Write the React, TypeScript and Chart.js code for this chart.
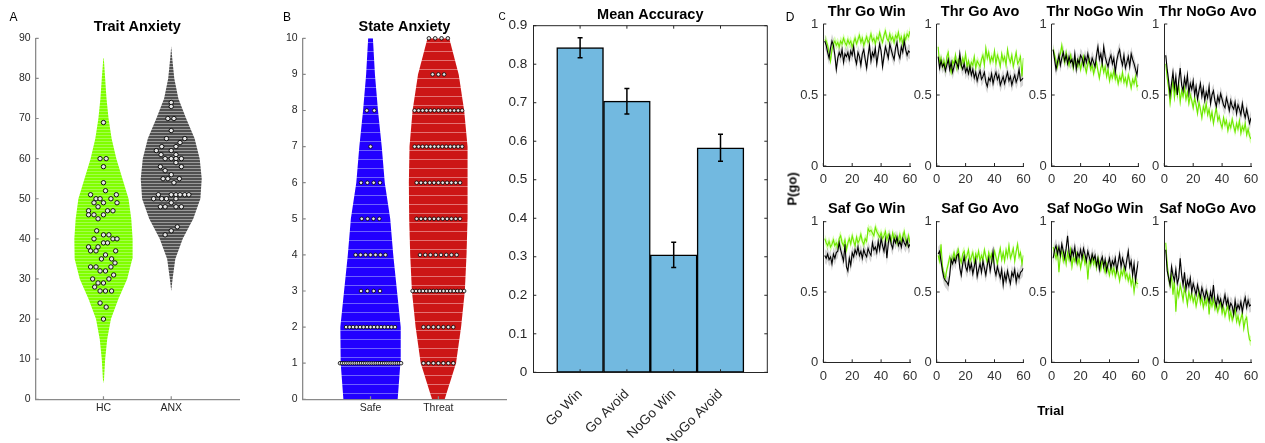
import React, { useEffect, useRef } from 'react';
import { Chart, registerables } from 'chart.js';

Chart.register(...registerables);

const FONT = "'Liberation Sans', Arial, Helvetica, sans-serif";
Chart.defaults.font.family = FONT;
Chart.defaults.color = '#262626';

// ---------------- Panel A : Trait Anxiety ----------------
const TRAIT_GROUPS = ['HC', 'ANX'];
const HC_VALUES = [69, 60, 60, 58, 54, 52, 51, 51, 50, 50, 50, 49, 49, 49, 48, 47, 47, 47, 46, 46, 46, 45, 42, 41, 41, 40, 40, 40, 39, 39, 38, 38, 37, 37, 37, 36, 35, 35, 34, 33, 33, 33, 32, 32, 31, 30, 30, 29, 29, 28, 27, 27, 27, 24, 23, 20];
const HC_JITTER = [0, -0.05, 0.04, 0, 0, 0.03, -0.19, 0.19, -0.11, -0.05, 0.11, -0.14, 0, 0.2, -0.08, -0.22, 0.06, 0.14, -0.22, -0.14, 0, -0.08, -0.1, 0, 0.08, -0.14, 0.14, 0.2, 0, 0.06, -0.22, -0.08, -0.19, -0.11, 0.18, 0.03, -0.03, 0.12, 0.17, -0.19, -0.11, 0.11, -0.05, 0.03, 0.15, 0.08, -0.16, -0.08, 0, -0.13, -0.05, 0.03, 0.12, -0.05, 0.04, 0];
const ANX_VALUES = [74, 73, 70, 70, 67, 65, 65, 64, 63, 63, 62, 62, 61, 61, 60, 60, 60, 60, 59, 58, 58, 57, 56, 55, 55, 55, 54, 51, 51, 51, 51, 51, 51, 50, 50, 50, 50, 49, 48, 48, 48, 48, 43, 42, 41];
const ANX_JITTER = [0, 0, -0.05, 0.04, 0, -0.07, 0.2, 0.13, -0.14, 0.07, -0.22, 0, -0.15, 0.07, -0.09, 0, 0.07, 0.15, 0.07, -0.16, 0.15, -0.09, 0, -0.12, -0.05, 0.12, 0.04, -0.19, 0, 0.07, 0.13, 0.2, 0.26, -0.26, -0.14, -0.07, 0.07, 0, -0.16, -0.09, 0.07, 0.15, 0.09, 0, -0.09];
const HC_VIOLIN_Y = [4, 5, 10, 15, 20, 25, 30, 35, 40, 45, 50, 55, 60, 65, 70, 75, 80, 85, 86];
const HC_VIOLIN_W = [0, 0.008, 0.025, 0.055, 0.11, 0.22, 0.35, 0.425, 0.43, 0.41, 0.37, 0.28, 0.19, 0.12, 0.075, 0.045, 0.025, 0.005, 0];
const ANX_VIOLIN_Y = [27, 30, 35, 40, 45, 50, 55, 60, 65, 70, 75, 80, 85, 88];
const ANX_VIOLIN_W = [0, 0.02, 0.06, 0.17, 0.325, 0.43, 0.45, 0.42, 0.345, 0.22, 0.105, 0.045, 0.015, 0];

// ---------------- Panel B : State Anxiety ----------------
const STATE_GROUPS = ['Safe', 'Threat'];
const STATE_VIOLIN_Y = [0, 1, 2, 3, 4, 5, 6, 7, 8, 9, 10];
const SAFE_VIOLIN_W = [0.4, 0.44, 0.445, 0.39, 0.335, 0.29, 0.21, 0.165, 0.11, 0.065, 0.035];
const THREAT_VIOLIN_W = [0.093, 0.26, 0.335, 0.39, 0.415, 0.43, 0.435, 0.425, 0.38, 0.3, 0.16];
const SAFE_LEVELS = [1, 2, 3, 4, 5, 6, 7, 8];
const SAFE_COUNTS = [30, 15, 4, 7, 4, 4, 1, 2];
const SAFE_SPREAD = [0.45, 0.36, 0.14, 0.22, 0.13, 0.14, 0, 0.055];
const THREAT_LEVELS = [1, 2, 3, 4, 5, 6, 7, 8, 9, 10];
const THREAT_COUNTS = [7, 7, 16, 8, 11, 11, 13, 13, 3, 4];
const THREAT_SPREAD = [0.22, 0.22, 0.38, 0.27, 0.32, 0.32, 0.35, 0.35, 0.085, 0.14];

// ---------------- Panel C : Mean Accuracy ----------------
const ACC_LABELS = ['Go Win', 'Go Avoid', 'NoGo Win', 'NoGo Avoid'];
const ACC_MEAN = [0.843, 0.704, 0.305, 0.583];
const ACC_ERR = [0.026, 0.033, 0.033, 0.035];

// ---------------- Panel D : P(go) over trials ----------------
const SE_GREEN = 0.035;
const SE_BLACK = 0.05;
const TGW_G = [0.89, 0.88, 0.85, 0.80, 0.74, 0.82, 0.86, 0.88, 0.85, 0.87,
  0.84, 0.88, 0.86, 0.90, 0.87, 0.85, 0.89, 0.86, 0.88, 0.84,
  0.87, 0.90, 0.86, 0.89, 0.92, 0.87, 0.90, 0.85, 0.88, 0.91,
  0.87, 0.89, 0.93, 0.88, 0.90, 0.86, 0.91, 0.89, 0.94, 0.90,
  0.87, 0.92, 0.95, 0.90, 0.88, 0.93, 0.89, 0.91, 0.87, 0.92,
  0.90, 0.94, 0.88, 0.91, 0.86, 0.92, 0.89, 0.93, 0.91, 0.95];
const TGW_K = [0.88, 0.85, 0.80, 0.76, 0.83, 0.88, 0.85, 0.78, 0.68, 0.76,
  0.80, 0.77, 0.82, 0.73, 0.79, 0.77, 0.80, 0.75, 0.81, 0.78,
  0.84, 0.76, 0.72, 0.80, 0.77, 0.71, 0.79, 0.82, 0.75, 0.69,
  0.78, 0.85, 0.74, 0.80, 0.77, 0.83, 0.72, 0.79, 0.86, 0.81,
  0.70, 0.77, 0.84, 0.80, 0.76, 0.86, 0.82, 0.78, 0.75, 0.83,
  0.87, 0.79, 0.76, 0.84, 0.80, 0.88, 0.82, 0.78, 0.81, 0.80];
const TGA_G = [0.84, 0.72, 0.76, 0.70, 0.74, 0.68, 0.77, 0.80, 0.71, 0.66,
  0.74, 0.72, 0.78, 0.69, 0.75, 0.73, 0.70, 0.76, 0.72, 0.79,
  0.70, 0.74, 0.68, 0.73, 0.71, 0.77, 0.69, 0.74, 0.72, 0.70,
  0.75, 0.78, 0.71, 0.83, 0.76, 0.80, 0.73, 0.77, 0.74, 0.81,
  0.72, 0.78, 0.75, 0.70, 0.79, 0.74, 0.77, 0.71, 0.82, 0.76,
  0.73, 0.78, 0.70, 0.75, 0.80, 0.72, 0.74, 0.77, 0.63, 0.76];
const TGA_K = [0.77, 0.69, 0.74, 0.70, 0.72, 0.67, 0.71, 0.75, 0.68, 0.73,
  0.66, 0.70, 0.74, 0.72, 0.69, 0.79, 0.71, 0.68, 0.72, 0.66,
  0.69, 0.65, 0.70, 0.64, 0.68, 0.62, 0.66, 0.60, 0.64, 0.67,
  0.61, 0.63, 0.66, 0.59, 0.56, 0.62, 0.60, 0.65, 0.58, 0.63,
  0.66, 0.61, 0.64, 0.57, 0.60, 0.63, 0.58, 0.62, 0.66, 0.60,
  0.63, 0.57, 0.61, 0.64, 0.59, 0.62, 0.68, 0.60, 0.61, 0.62];
const TNW_G = [0.82, 0.78, 0.74, 0.70, 0.76, 0.79, 0.85, 0.77, 0.73, 0.80,
  0.75, 0.71, 0.78, 0.74, 0.69, 0.76, 0.72, 0.70, 0.75, 0.68,
  0.73, 0.77, 0.70, 0.66, 0.72, 0.75, 0.68, 0.71, 0.65, 0.70,
  0.73, 0.67, 0.62, 0.69, 0.72, 0.66, 0.70, 0.63, 0.68, 0.60,
  0.65, 0.62, 0.67, 0.61, 0.64, 0.58, 0.63, 0.60, 0.66, 0.59,
  0.62, 0.57, 0.64, 0.60, 0.55, 0.61, 0.58, 0.63, 0.56, 0.57];
const TNW_K = [0.82, 0.75, 0.68, 0.73, 0.78, 0.71, 0.76, 0.80, 0.74, 0.78,
  0.72, 0.77, 0.73, 0.75, 0.70, 0.79, 0.68, 0.75, 0.72, 0.78,
  0.76, 0.71, 0.77, 0.73, 0.79, 0.74, 0.71, 0.76, 0.73, 0.70,
  0.78, 0.84, 0.75, 0.79, 0.72, 0.84, 0.77, 0.73, 0.70, 0.75,
  0.78, 0.72, 0.76, 0.66, 0.74, 0.79, 0.82, 0.75, 0.71, 0.78,
  0.69, 0.73, 0.77, 0.70, 0.79, 0.75, 0.72, 0.68, 0.64, 0.72];
const TNA_G = [0.72, 0.62, 0.55, 0.44, 0.52, 0.60, 0.48, 0.56, 0.50, 0.58,
  0.45, 0.53, 0.49, 0.55, 0.47, 0.52, 0.44, 0.50, 0.46, 0.41,
  0.48, 0.43, 0.37, 0.45, 0.40, 0.34, 0.42, 0.38, 0.44, 0.36,
  0.40, 0.33, 0.38, 0.30, 0.36, 0.41, 0.32, 0.35, 0.30, 0.27,
  0.34, 0.29, 0.32, 0.25, 0.30, 0.27, 0.33, 0.28, 0.24, 0.30,
  0.26, 0.32, 0.23, 0.28, 0.25, 0.30, 0.22, 0.26, 0.21, 0.19];
const TNA_K = [0.78, 0.68, 0.60, 0.50, 0.58, 0.66, 0.55, 0.63, 0.50, 0.60,
  0.69, 0.57, 0.53, 0.62, 0.56, 0.64, 0.51, 0.58, 0.54, 0.60,
  0.50, 0.56, 0.47, 0.53, 0.58, 0.49, 0.55, 0.46, 0.52, 0.48,
  0.56, 0.44, 0.50, 0.53, 0.46, 0.42, 0.49, 0.45, 0.51, 0.47,
  0.43, 0.41, 0.48, 0.44, 0.39, 0.46, 0.42, 0.40, 0.45, 0.37,
  0.43, 0.40, 0.36, 0.44, 0.38, 0.34, 0.40, 0.35, 0.30, 0.34];
const SGW_G = [0.88, 0.85, 0.83, 0.86, 0.82, 0.84, 0.87, 0.83, 0.85, 0.82,
  0.88, 0.90, 0.85, 0.83, 0.87, 0.80, 0.85, 0.88, 0.84, 0.90,
  0.86, 0.83, 0.89, 0.85, 0.87, 0.91, 0.86, 0.84, 0.88, 0.86,
  0.95, 0.93, 0.94, 0.92, 0.90, 0.96, 0.93, 0.91, 0.89, 0.92,
  0.88, 0.90, 0.93, 0.87, 0.91, 0.89, 0.86, 0.92, 0.88, 0.90,
  0.85, 0.87, 0.91, 0.86, 0.89, 0.93, 0.87, 0.84, 0.90, 0.85];
const SGW_K = [0.76, 0.74, 0.77, 0.73, 0.75, 0.70, 0.77, 0.74, 0.78, 0.79,
  0.85, 0.80, 0.76, 0.72, 0.84, 0.68, 0.65, 0.74, 0.69, 0.78,
  0.75, 0.80, 0.77, 0.82, 0.76, 0.79, 0.74, 0.80, 0.77, 0.75,
  0.81, 0.78, 0.76, 0.85, 0.80, 0.82, 0.78, 0.86, 0.80, 0.88,
  0.83, 0.79, 0.87, 0.74, 0.85, 0.90, 0.84, 0.81, 0.88, 0.85,
  0.89, 0.83, 0.86, 0.82, 0.88, 0.85, 0.83, 0.87, 0.82, 0.84];
const SGA_G = [0.76, 0.72, 0.84, 0.68, 0.62, 0.60, 0.66, 0.70, 0.75, 0.72,
  0.74, 0.78, 0.73, 0.77, 0.80, 0.74, 0.71, 0.77, 0.79, 0.73,
  0.76, 0.80, 0.72, 0.75, 0.78, 0.71, 0.77, 0.74, 0.79, 0.72,
  0.76, 0.73, 0.80, 0.75, 0.71, 0.78, 0.74, 0.77, 0.72, 0.79,
  0.75, 0.70, 0.76, 0.81, 0.73, 0.78, 0.72, 0.80, 0.75, 0.83,
  0.74, 0.77, 0.81, 0.72, 0.79, 0.84, 0.75, 0.78, 0.70, 0.76];
const SGA_K = [0.77, 0.79, 0.72, 0.65, 0.60, 0.58, 0.57, 0.55, 0.62, 0.73,
  0.70, 0.74, 0.71, 0.76, 0.77, 0.67, 0.62, 0.70, 0.75, 0.68,
  0.65, 0.72, 0.66, 0.70, 0.63, 0.68, 0.73, 0.61, 0.66, 0.70,
  0.64, 0.72, 0.67, 0.62, 0.69, 0.74, 0.65, 0.71, 0.79, 0.66,
  0.62, 0.68, 0.64, 0.60, 0.66, 0.55, 0.63, 0.58, 0.65, 0.60,
  0.56, 0.64, 0.61, 0.66, 0.57, 0.63, 0.60, 0.64, 0.65, 0.67];
const SNW_G = [0.82, 0.78, 0.74, 0.80, 0.64, 0.76, 0.79, 0.72, 0.77, 0.70,
  0.78, 0.73, 0.80, 0.68, 0.75, 0.72, 0.77, 0.70, 0.74, 0.67,
  0.73, 0.76, 0.70, 0.74, 0.59, 0.72, 0.69, 0.75, 0.70, 0.73,
  0.67, 0.74, 0.71, 0.66, 0.73, 0.68, 0.64, 0.70, 0.66, 0.62,
  0.69, 0.63, 0.67, 0.61, 0.66, 0.64, 0.58, 0.65, 0.62, 0.67,
  0.60, 0.63, 0.58, 0.62, 0.55, 0.60, 0.50, 0.58, 0.56, 0.56];
const SNW_K = [0.74, 0.80, 0.83, 0.77, 0.82, 0.76, 0.84, 0.79, 0.74, 0.81,
  0.90, 0.78, 0.73, 0.80, 0.76, 0.82, 0.72, 0.78, 0.75, 0.80,
  0.74, 0.81, 0.77, 0.72, 0.79, 0.75, 0.71, 0.77, 0.73, 0.76,
  0.69, 0.74, 0.66, 0.72, 0.75, 0.68, 0.73, 0.65, 0.70, 0.74,
  0.67, 0.72, 0.69, 0.74, 0.65, 0.71, 0.77, 0.68, 0.74, 0.70,
  0.66, 0.73, 0.79, 0.68, 0.72, 0.62, 0.70, 0.58, 0.66, 0.72];
const SNA_G = [0.85, 0.70, 0.60, 0.55, 0.62, 0.48, 0.58, 0.36, 0.52, 0.47,
  0.55, 0.50, 0.44, 0.53, 0.48, 0.41, 0.50, 0.45, 0.49, 0.43,
  0.47, 0.40, 0.45, 0.50, 0.42, 0.46, 0.39, 0.44, 0.41, 0.48,
  0.34, 0.44, 0.40, 0.45, 0.38, 0.42, 0.36, 0.40, 0.43, 0.35,
  0.39, 0.33, 0.37, 0.40, 0.31, 0.36, 0.30, 0.34, 0.38, 0.29,
  0.33, 0.27, 0.31, 0.35, 0.24, 0.30, 0.32, 0.22, 0.16, 0.15];
const SNA_K = [0.80, 0.65, 0.60, 0.55, 0.68, 0.62, 0.58, 0.66, 0.56, 0.60,
  0.74, 0.62, 0.55, 0.64, 0.52, 0.58, 0.54, 0.60, 0.50, 0.56,
  0.52, 0.48, 0.55, 0.50, 0.46, 0.53, 0.49, 0.45, 0.51, 0.47,
  0.43, 0.50, 0.45, 0.55, 0.44, 0.40, 0.47, 0.42, 0.45, 0.39,
  0.43, 0.48, 0.41, 0.45, 0.38, 0.42, 0.40, 0.34, 0.44, 0.37,
  0.41, 0.38, 0.43, 0.36, 0.42, 0.46, 0.39, 0.44, 0.40, 0.41];
const D_TITLES = ['Thr Go Win', 'Thr Go Avo', 'Thr NoGo Win', 'Thr NoGo Avo', 'Saf Go Win', 'Saf Go Avo', 'Saf NoGo Win', 'Saf NoGo Avo'];
const D_GREEN = [TGW_G, TGA_G, TNW_G, TNA_G, SGW_G, SGA_G, SNW_G, SNA_G];
const D_BLACK = [TGW_K, TGA_K, TNW_K, TNA_K, SGW_K, SGA_K, SNW_K, SNA_K];

// ---------------- helpers ----------------
type Frame = { left: number; top: number; width: number; height: number; yw: number; xh: number; padTop: number; padR: number };

function frame(l: number, t: number, r: number, b: number, yw: number, xh: number, topSpace: number, padR: number): Frame {
  const left = Math.floor(l - yw);
  const top = Math.floor(t - topSpace);
  const width = Math.ceil(r + padR) - left;
  const height = Math.ceil(b + xh) - top;
  return { left, top, width, height, yw: l - left, xh: top + height - b, padTop: t - top, padR: left + width - r };
}

function stripes(base: string, light: string, period: number, lightRows: number) {
  const c = document.createElement('canvas');
  c.width = 4;
  c.height = period;
  const g = c.getContext('2d')!;
  g.fillStyle = base;
  g.fillRect(0, 0, 4, period);
  g.fillStyle = light;
  g.fillRect(0, 0, 4, lightRows);
  return g.createPattern(c, 'repeat')!;
}

function violin(center: number, ys: number[], ws: number[]) {
  const right = ys.map((y, i) => ({ x: center + ws[i], y }));
  const left = ys.map((y, i) => ({ x: center - ws[i], y })).reverse();
  return [...right, ...left, right[0]];
}

function rows(center: number, levels: number[], counts: number[], spreads: number[]) {
  const pts: { x: number; y: number }[] = [];
  levels.forEach((lv, i) => {
    const n = counts[i];
    const s = spreads[i];
    for (let k = 0; k < n; k++) {
      const off = n === 1 ? 0 : -s + (2 * s * k) / (n - 1);
      pts.push({ x: center + off, y: lv });
    }
  });
  return pts;
}

function deco(o: { color: string; len: number; box?: boolean; width?: number; skipX?: (i: number) => boolean }) {
  return {
    id: 'deco',
    afterDraw(chart: any) {
      const { ctx, chartArea: a } = chart;
      const xs = chart.scales.x;
      const ys = chart.scales.y;
      ctx.save();
      ctx.strokeStyle = o.color;
      ctx.lineWidth = o.width ?? 1;
      ctx.beginPath();
      xs.ticks.forEach((_t: any, i: number) => {
        if (o.skipX && o.skipX(i)) return;
        const px = xs.getPixelForTick(i);
        ctx.moveTo(px, a.bottom);
        ctx.lineTo(px, a.bottom - o.len);
        if (o.box) {
          ctx.moveTo(px, a.top);
          ctx.lineTo(px, a.top + o.len);
        }
      });
      ys.ticks.forEach((_t: any, i: number) => {
        const py = ys.getPixelForTick(i);
        ctx.moveTo(a.left, py);
        ctx.lineTo(a.left + o.len, py);
        if (o.box) {
          ctx.moveTo(a.right, py);
          ctx.lineTo(a.right - o.len, py);
        }
      });
      if (o.box) {
        ctx.moveTo(a.left, a.top);
        ctx.lineTo(a.right, a.top);
        ctx.lineTo(a.right, a.bottom);
      }
      ctx.stroke();
      ctx.restore();
    },
  };
}

function panelTitle(text: string, gap: number) {
  return {
    id: 'panelTitle',
    afterDraw(chart: any) {
      const { ctx, chartArea: a } = chart;
      ctx.save();
      ctx.font = `bold 14.5px ${FONT}`;
      ctx.fillStyle = '#000';
      ctx.textAlign = 'center';
      ctx.textBaseline = 'middle';
      ctx.fillText(text, (a.left + a.right) / 2, a.top - gap);
      ctx.restore();
    },
  };
}

const errorBars = {
  id: 'errorBars',
  afterDatasetsDraw(chart: any) {
    const { ctx } = chart;
    const xs = chart.scales.x;
    const ys = chart.scales.y;
    ctx.save();
    ctx.strokeStyle = '#000';
    ctx.lineWidth = 1.5;
    ctx.beginPath();
    ACC_MEAN.forEach((m, i) => {
      const px = xs.getPixelForValue(i + 1);
      const hi = ys.getPixelForValue(m + ACC_ERR[i]);
      const lo = ys.getPixelForValue(m - ACC_ERR[i]);
      ctx.moveTo(px, hi);
      ctx.lineTo(px, lo);
      ctx.moveTo(px - 2.5, hi);
      ctx.lineTo(px + 2.5, hi);
      ctx.moveTo(px - 2.5, lo);
      ctx.lineTo(px + 2.5, lo);
    });
    ctx.stroke();
    ctx.restore();
  },
};

// ---------------- frames ----------------
const TOP_SPACE = 23;
const FA = frame(35.7, 38.3, 239, 399.3, 30, 20, TOP_SPACE, 6);
const FB = frame(302.7, 38.3, 506.6, 399.3, 30, 20, TOP_SPACE, 4);
const FC = frame(533.3, 25.7, 767.3, 372.3, 40, 68, TOP_SPACE, 32);
const D_LEFTS = [823.3, 936.7, 1051.7, 1164.3];
const D_W = 86.7;
const D_TOPS = [24, 221.7];
const D_BOTTOMS = [166, 362.3];
const D_GAPS = [11.7, 12.4];
const FD = D_TITLES.map((_, i) => {
  const c = i % 4;
  const r = Math.floor(i / 4);
  return frame(D_LEFTS[c], D_TOPS[r], D_LEFTS[c] + D_W, D_BOTTOMS[r], 28, 24, TOP_SPACE, 13.5);
});

function baseOptions(f: Frame) {
  return {
    responsive: false,
    animation: false as const,
    events: [] as any[],
    layout: { padding: { top: f.padTop, right: f.padR, left: 0, bottom: 0 } },
  };
}

const NO_PLUGINS = { legend: { display: false }, tooltip: { enabled: false }, title: { display: false } };

function makeViolinChart(f: Frame, title: string, groups: string[], yMax: number, yStep: number, fontSize: number, datasets: any[]) {
  return {
    type: 'scatter',
    data: { datasets },
    options: {
      ...baseOptions(f),
      plugins: NO_PLUGINS,
      scales: {
        x: {
          type: 'linear',
          min: 0,
          max: 3,
          afterBuildTicks: (s: any) => { s.ticks = [{ value: 1 }, { value: 2 }]; },
          afterFit: (s: any) => { s.height = f.xh; },
          ticks: { callback: (v: any) => groups[Number(v) - 1], font: { size: fontSize }, color: '#262626', padding: 3, maxRotation: 0, autoSkip: false },
          grid: { display: false, drawTicks: false },
          border: { display: true, color: '#8a8a8a', width: 1.3 },
        },
        y: {
          min: 0,
          max: yMax,
          afterFit: (s: any) => { s.width = f.yw; },
          ticks: { stepSize: yStep, font: { size: fontSize }, color: '#262626', padding: 5 },
          grid: { display: false, drawTicks: false },
          border: { display: true, color: '#8a8a8a', width: 1.3 },
        },
      },
    },
    plugins: [deco({ color: '#8a8a8a', len: 3, width: 1.2 }), panelTitle(title, 11.6)],
  };
}

const violinStyle = { showLine: true, fill: 'shape', borderWidth: 0, borderColor: 'rgba(0,0,0,0)', pointRadius: 0, tension: 0, order: 2 };
const dotStyle = { backgroundColor: '#e6e6e6', borderColor: '#000', order: 1, clip: false };

function makeA() {
  return makeViolinChart(FA, 'Trait Anxiety', TRAIT_GROUPS, 90, 10, 10.5, [
    { ...violinStyle, data: violin(1, HC_VIOLIN_Y, HC_VIOLIN_W), backgroundColor: stripes('#80ff00', '#a4ff4a', 3, 1) },
    { ...violinStyle, data: violin(2, ANX_VIOLIN_Y, ANX_VIOLIN_W), backgroundColor: stripes('#505050', '#9a9a9a', 3, 1) },
    { ...dotStyle, data: HC_VALUES.map((v, i) => ({ x: 1 + HC_JITTER[i], y: v })), pointRadius: 2.2, borderWidth: 0.9 },
    { ...dotStyle, data: ANX_VALUES.map((v, i) => ({ x: 2 + ANX_JITTER[i], y: v })), pointRadius: 2.2, borderWidth: 0.9 },
  ]);
}

function makeB() {
  return makeViolinChart(FB, 'State Anxiety', STATE_GROUPS, 10, 1, 10.5, [
    { ...violinStyle, data: violin(1, STATE_VIOLIN_Y, SAFE_VIOLIN_W), backgroundColor: stripes('#2200ff', '#6c60ff', 9, 1) },
    { ...violinStyle, data: violin(2, STATE_VIOLIN_Y, THREAT_VIOLIN_W), backgroundColor: stripes('#cc1616', '#e47272', 9, 1) },
    { ...dotStyle, data: rows(1, SAFE_LEVELS, SAFE_COUNTS, SAFE_SPREAD), pointRadius: 1.8, borderWidth: 0.8 },
    { ...dotStyle, data: rows(2, THREAT_LEVELS, THREAT_COUNTS, THREAT_SPREAD), pointRadius: 1.8, borderWidth: 0.8 },
  ]);
}

function makeC() {
  const f = FC;
  const labels = ['', ...ACC_LABELS, ''];
  return {
    type: 'bar',
    data: {
      labels,
      datasets: [{
        data: [null, ...ACC_MEAN, null],
        backgroundColor: '#72b9e0',
        borderColor: '#000',
        borderWidth: 1.5,
        borderSkipped: false,
        barPercentage: 1,
        categoryPercentage: 1,
      }],
    },
    options: {
      ...baseOptions(f),
      plugins: NO_PLUGINS,
      scales: {
        x: {
          type: 'category',
          offset: false,
          afterFit: (s: any) => { s.height = f.xh; },
          ticks: { font: { size: 13.5 }, color: '#262626', padding: 14, minRotation: 45, maxRotation: 45, autoSkip: false },
          grid: { display: false, drawTicks: false },
          border: { display: true, color: '#262626', width: 1 },
        },
        y: {
          min: 0,
          max: 0.9,
          afterFit: (s: any) => { s.width = f.yw; },
          ticks: { stepSize: 0.1, font: { size: 13.5 }, color: '#262626', padding: 6 },
          grid: { display: false, drawTicks: false },
          border: { display: true, color: '#262626', width: 1 },
        },
      },
    },
    plugins: [errorBars, deco({ color: '#262626', len: 3, box: true, skipX: (i) => i === 0 || i === 5 }), panelTitle('Mean Accuracy', 10.7)],
  };
}

function makeD(i: number) {
  const f = FD[i];
  const g = D_GREEN[i];
  const k = D_BLACK[i];
  const pts = (arr: number[], d: number) => arr.map((v, j) => ({ x: j + 1, y: v + d }));
  const band = { pointRadius: 0, borderWidth: 0, borderColor: 'rgba(0,0,0,0)', tension: 0 };
  return {
    type: 'line',
    data: {
      datasets: [
        { ...band, data: pts(g, SE_GREEN), fill: false, order: 5 },
        { ...band, data: pts(g, -SE_GREEN), fill: '-1', backgroundColor: 'rgba(128,255,0,0.3)', order: 5 },
        { ...band, data: pts(k, SE_BLACK), fill: false, order: 4 },
        { ...band, data: pts(k, -SE_BLACK), fill: '-1', backgroundColor: 'rgba(0,0,0,0.17)', order: 4 },
        { data: pts(g, 0), borderColor: '#6ee800', borderWidth: 1.1, pointRadius: 0, fill: false, tension: 0, order: 2 },
        { data: pts(k, 0), borderColor: '#000', borderWidth: 1.1, pointRadius: 0, fill: false, tension: 0, order: 1 },
      ],
    },
    options: {
      ...baseOptions(f),
      plugins: NO_PLUGINS,
      scales: {
        x: {
          type: 'linear',
          min: 0,
          max: 60,
          afterFit: (s: any) => { s.height = f.xh; },
          ticks: { stepSize: 20, font: { size: 13 }, color: '#333', padding: 6, maxRotation: 0, autoSkip: false },
          grid: { display: false, drawTicks: false },
          border: { display: true, color: '#262626', width: 1 },
        },
        y: {
          min: 0,
          max: 1,
          afterFit: (s: any) => { s.width = f.yw; },
          ticks: { stepSize: 0.5, font: { size: 13 }, color: '#333', padding: 5, callback: (v: any) => String(Number(v)) },
          grid: { display: false, drawTicks: false },
          border: { display: true, color: '#262626', width: 1 },
        },
      },
    },
    plugins: [deco({ color: '#262626', len: 3 }), panelTitle(D_TITLES[i], D_GAPS[Math.floor(i / 4)])],
  };
}

function ChartBox({ f, make }: { f: Frame; make: () => any }) {
  const ref = useRef<HTMLCanvasElement>(null);
  useEffect(() => {
    const chart = new Chart(ref.current!, make());
    return () => chart.destroy();
  }, []);
  return (
    <canvas
      ref={ref}
      width={f.width}
      height={f.height}
      style={{ position: 'absolute', left: f.left, top: f.top, width: f.width, height: f.height }}
    />
  );
}

function Label({ text, x, y, size, bold, rotate }: { text: string; x: number; y: number; size: number; bold?: boolean; rotate?: boolean }) {
  return (
    <div
      style={{
        position: 'absolute',
        left: x,
        top: y,
        transform: `translate(-50%, -50%)${rotate ? ' rotate(-90deg)' : ''}`,
        fontFamily: FONT,
        fontSize: size,
        fontWeight: bold ? 'bold' : 'normal',
        color: '#000',
        whiteSpace: 'nowrap',
        lineHeight: 1,
      }}
    >
      {text}
    </div>
  );
}

export default function App() {
  return (
    <div style={{ position: 'absolute', left: 0, top: 0, width: 1265, height: 443, background: '#fff', overflow: 'hidden' }}>
      <ChartBox f={FA} make={makeA} />
      <ChartBox f={FB} make={makeB} />
      <ChartBox f={FC} make={makeC} />
      {FD.map((f, i) => (
        <ChartBox key={i} f={f} make={() => makeD(i)} />
      ))}
      <Label text="A" x={13.5} y={17} size={12} />
      <Label text="B" x={287} y={16.5} size={12} />
      <Label text="C" x={502} y={16.5} size={10} />
      <Label text="D" x={790} y={17} size={12} />
      <Label text="P(go)" x={791.5} y={188.5} size={13} bold rotate />
      <Label text="Trial" x={1050.7} y={409.7} size={13} bold />
    </div>
  );
}
